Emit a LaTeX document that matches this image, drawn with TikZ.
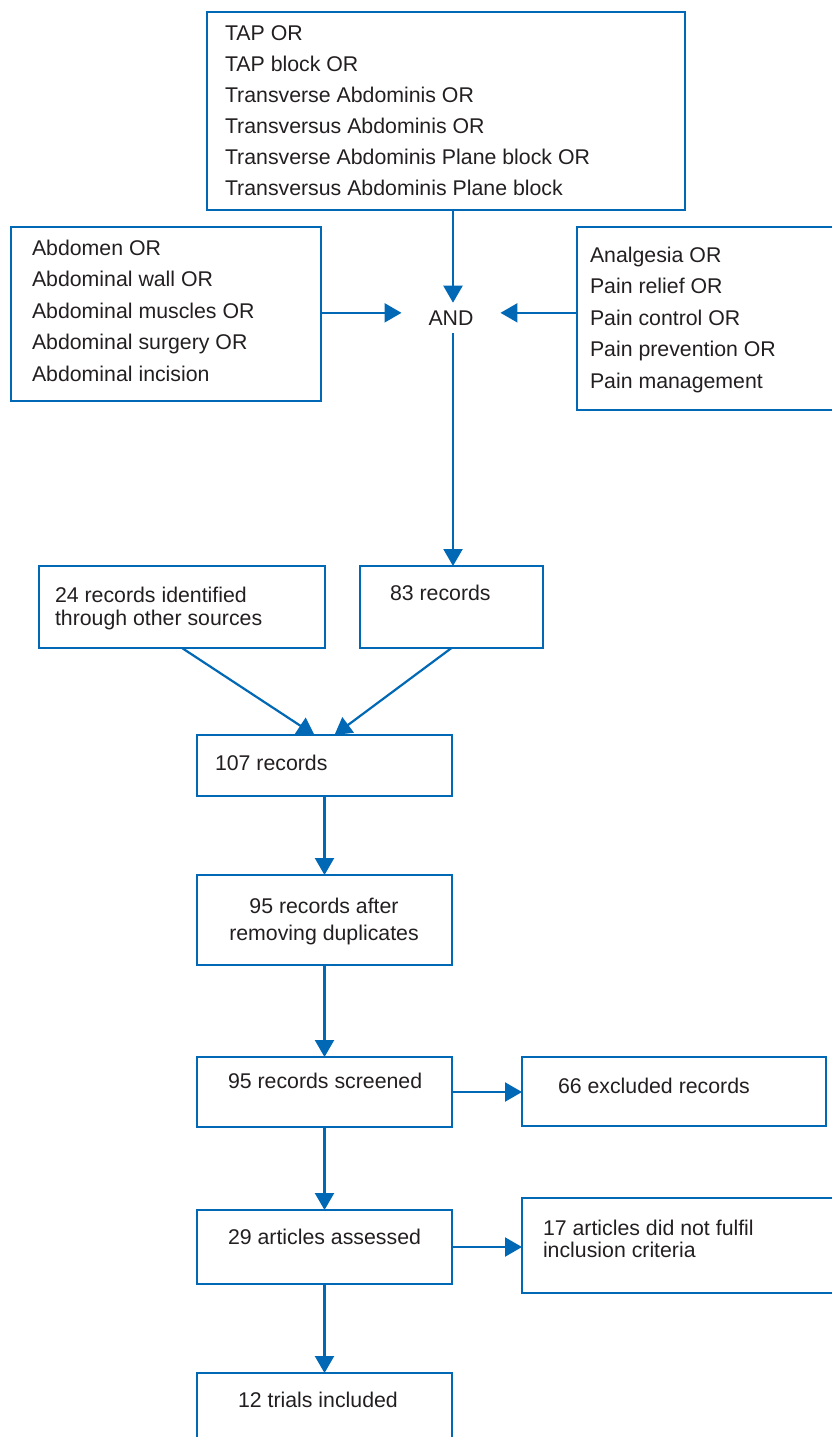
\documentclass[tikz,border=0pt]{standalone}
\usepackage{fontspec}
\setmainfont{Liberation Sans}
\usetikzlibrary{arrows.meta,calc}
\definecolor{fc}{RGB}{0,104,180}
\definecolor{tc}{RGB}{35,31,32}
\begin{document}
\begin{tikzpicture}[x=1pt,y=-1pt,
  box/.style={draw=fc, line width=2.2pt, anchor=north west, inner sep=0pt, outer sep=0pt},
  lbl/.style={text=tc, inner sep=0pt, outer sep=0pt, font=\fontsize{21.3}{31}\selectfont},
  ml/.style={lbl, anchor=north west, align=left},
  arr/.style={draw=fc, line width=2.2pt, -{Triangle[length=17pt,width=19pt]}},
  ln/.style={draw=fc, line width=2.2pt}]
\useasboundingbox (0,0) rectangle (832,1437);
\clip (0,0) rectangle (832,1437);
% boxes
\node[box, minimum width=478pt, minimum height=198pt] (top) at (207,12) {};
\node[box, minimum width=310pt, minimum height=174pt] (left) at (11,227) {};
\node[box, minimum width=290pt, minimum height=183pt] (right) at (577,227) {};
\node[box, minimum width=286pt, minimum height=82pt] (r24) at (39,566) {};
\node[box, minimum width=183pt, minimum height=82pt] (r83) at (360,566) {};
\node[box, minimum width=255pt, minimum height=61pt] (r107) at (197,735) {};
\node[box, minimum width=255pt, minimum height=90pt] (r95a) at (197,875) {};
\node[box, minimum width=255pt, minimum height=70pt] (r95s) at (197,1057) {};
\node[box, minimum width=304pt, minimum height=69pt] (r66) at (522,1057) {};
\node[box, minimum width=255pt, minimum height=74pt] (r29) at (197,1210) {};
\node[box, minimum width=330pt, minimum height=95pt] (r17) at (522,1198) {};
\node[box, minimum width=255pt, minimum height=100pt] (r12) at (197,1373) {};
% texts
\node[ml] (ttop) at (225,25.4) {TAP OR\\TAP block OR\\Transverse Abdominis OR\\Transversus Abdominis OR\\Transverse Abdominis Plane block OR\\Transversus Abdominis Plane block};
\node[ml, font=\fontsize{21.3}{31.5}\selectfont] (tleft) at (32,239.8) {Abdomen OR\\Abdominal wall OR\\Abdominal muscles OR\\Abdominal surgery OR\\Abdominal incision};
\node[ml, font=\fontsize{21.3}{31.5}\selectfont] (tright) at (590,246.8) {Analgesia OR\\Pain relief OR\\Pain control OR\\Pain prevention OR\\Pain management};
\node[lbl, anchor=base, inner xsep=27pt, inner ysep=7.5pt, text height=15.3pt, text depth=0pt] (andn) at (451,325.5) {AND};
\node[ml, font=\fontsize{21.3}{23}\selectfont] (t24) at (55,586.8) {24 records identified\\through other sources};
\node[lbl, anchor=base west] (t83) at (390,600) {83 records};
\node[lbl, anchor=base west] (t107) at (215,770) {107 records};
\node[lbl, anchor=north, align=center, font=\fontsize{21.3}{27}\selectfont] (t95a) at (324,897.8) {95 records after\\removing duplicates};
\node[lbl, anchor=base west] (t95s) at (228,1088) {95 records screened};
\node[lbl, anchor=base west] (t66) at (558,1093) {66 excluded records};
\node[lbl, anchor=base west] (t29) at (228,1244) {29 articles assessed};
\node[ml, font=\fontsize{21.3}{22}\selectfont] (t17) at (543,1219.8) {17 articles did not fulfil\\inclusion criteria};
\node[lbl, anchor=base west] (t12) at (238,1407) {12 trials included};
% connectors
\draw[arr] ([xshift=2pt]top.south -| andn) -- ([xshift=2pt]andn.north);
\draw[arr] ([yshift=5pt]andn.west -| left.east) -- ([yshift=5pt]andn.west);
\draw[arr] ([yshift=5pt]andn.east -| right.west) -- ([yshift=5pt]andn.east);
\draw[arr] ([xshift=2pt]andn.south) -- ([xshift=2pt]andn.south |- r83.north);
\draw[arr] (r24.south) -- ([xshift=-10pt]r107.north);
\draw[arr] (r83.south) -- ([xshift=10pt]r107.north);
\draw[arr] (r107.south) -- (r95a.north);
\draw[arr] (r95a.south) -- (r95s.north);
\draw[arr] (r95s.east) -- (r95s.east -| r66.west);
\draw[arr] (r95s.south) -- (r29.north);
\draw[arr] (r29.east) -- (r29.east -| r17.west);
\draw[arr] (r29.south) -- (r12.north);
\end{tikzpicture}
\end{document}
